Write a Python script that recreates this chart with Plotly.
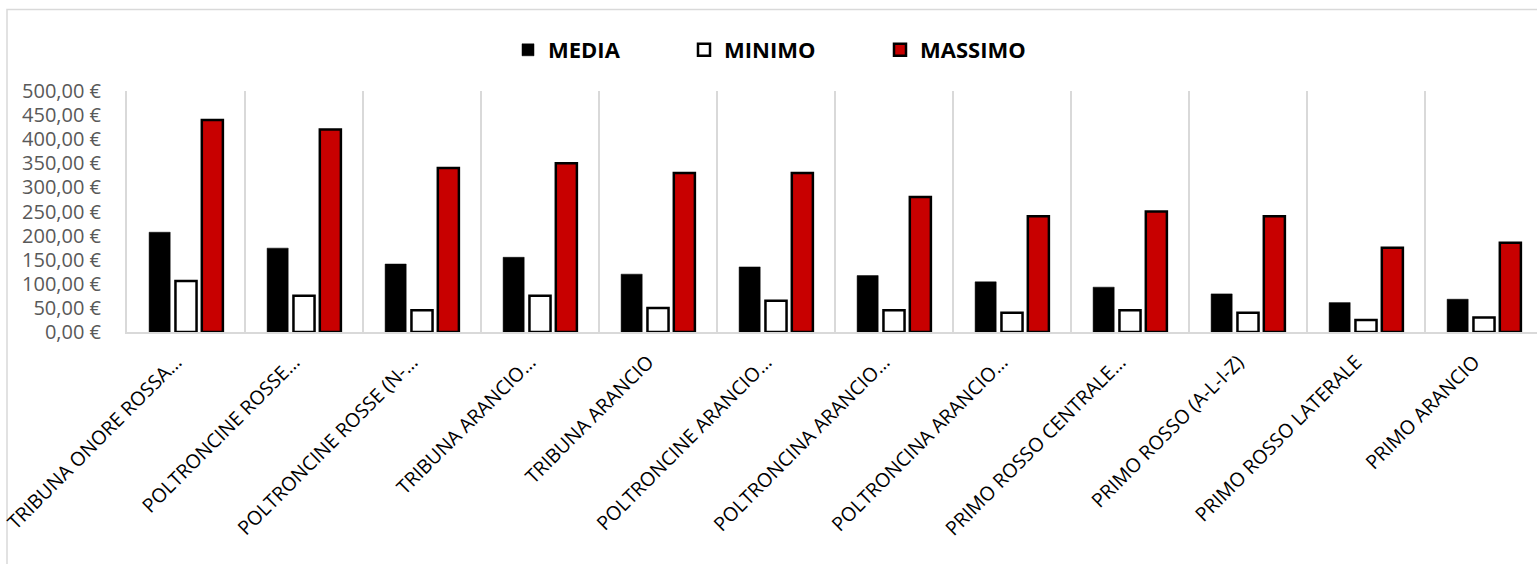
import plotly.graph_objects as go

# Seat categories (labels as shown on the axis, some truncated)
categories = [
    "TRIBUNA ONORE ROSSA…",
    "POLTRONCINE ROSSE…",
    "POLTRONCINE ROSSE (N-…",
    "TRIBUNA ARANCIO…",
    "TRIBUNA ARANCIO",
    "POLTRONCINE ARANCIO…",
    "POLTRONCINA ARANCIO…",
    "POLTRONCINA ARANCIO…",
    "PRIMO ROSSO CENTRALE…",
    "PRIMO ROSSO (A-L-I-Z)",
    "PRIMO ROSSO LATERALE",
    "PRIMO ARANCIO",
]

media = [207, 174, 141, 155, 120, 135, 117, 104, 93, 79, 61, 68]
minimo = [106, 75, 45, 75, 50, 65, 45, 40, 45, 40, 25, 30]
massimo = [440, 420, 340, 350, 330, 330, 280, 240, 250, 240, 175, 185]

y_ticks = [0, 50, 100, 150, 200, 250, 300, 350, 400, 450, 500]
y_tick_labels = [f"{v:.2f}".replace(".", ",") + " €" for v in y_ticks]

W, H = 1537, 564
ML, MR, MT, MB = 127, 0, 91, 232
PW = W - ML - MR
PH = H - MT - MB
CAT_PX = 118  # width of one category slot

x = list(range(len(categories)))
FONT = "Open Sans"
RED = "#C80000"
GRID = "#D9D9D9"


def px_x(p):
    return (p - ML) / PW


def px_y(p):
    return (MT + PH - p) / PH


fig = go.Figure()
fig.add_trace(go.Bar(
    x=x, y=media, name="MEDIA", legend="legend",
    marker=dict(color="#000000", line=dict(color="#000000", width=0.5)),
))
fig.add_trace(go.Bar(
    x=x, y=minimo, name="MINIMO", legend="legend2",
    marker=dict(color="#FFFFFF", line=dict(color="#000000", width=2.5)),
))
fig.add_trace(go.Bar(
    x=x, y=massimo, name="MASSIMO", legend="legend3",
    marker=dict(color=RED, line=dict(color="#000000", width=2.5)),
))

legend_style = dict(
    orientation="h", xanchor="left", yanchor="middle", y=px_y(50),
    font=dict(family=FONT, size=22, color="#000000", weight="bold"),
    bgcolor="rgba(0,0,0,0)", borderwidth=0, itemwidth=30,
    itemclick=False, itemdoubleclick=False,
)

# Chart frame
fig.add_shape(
    type="rect", xref="paper", yref="paper",
    x0=px_x(7), x1=px_x(W + 10), y0=px_y(H + 10), y1=px_y(9.5),
    line=dict(color=GRID, width=1.5), fillcolor="rgba(0,0,0,0)", layer="below",
)

fig.update_layout(
    width=W, height=H,
    margin=dict(l=ML, r=MR, t=MT, b=MB, pad=0),
    paper_bgcolor="#FFFFFF", plot_bgcolor="#FFFFFF",
    barmode="group", bargap=0.33, bargroupgap=0.2,
    font=dict(family=FONT),
    showlegend=True,
    legend=dict(x=px_x(508), **legend_style),
    legend2=dict(x=px_x(684), **legend_style),
    legend3=dict(x=px_x(880), **legend_style),
    xaxis=dict(
        range=[-0.5, -0.5 + PW / CAT_PX],
        tickmode="array", tickvals=x, ticktext=categories,
        tickangle=-45, showgrid=False, zeroline=False,
        showline=True, linecolor=GRID, linewidth=2,
        ticks="", ticklabelshift=-10, ticklabelstandoff=9,
        ticklabeloverflow="allow",
        tickfont=dict(family=FONT, size=19.5, color="#000000"),
        minor=dict(tickmode="linear", tick0=-0.5, dtick=1, showgrid=True,
                   gridcolor=GRID, gridwidth=2, ticks=""),
    ),
    yaxis=dict(
        range=[0, 500], tickmode="array", tickvals=y_ticks,
        ticktext=y_tick_labels,
        showgrid=False, zeroline=False,
        showline=True, linecolor=GRID, linewidth=2,
        ticks="", ticklabelstandoff=20,
        tickfont=dict(family=FONT, size=20, color="#595959"),
    ),
)

fig.write_html("out.html")
